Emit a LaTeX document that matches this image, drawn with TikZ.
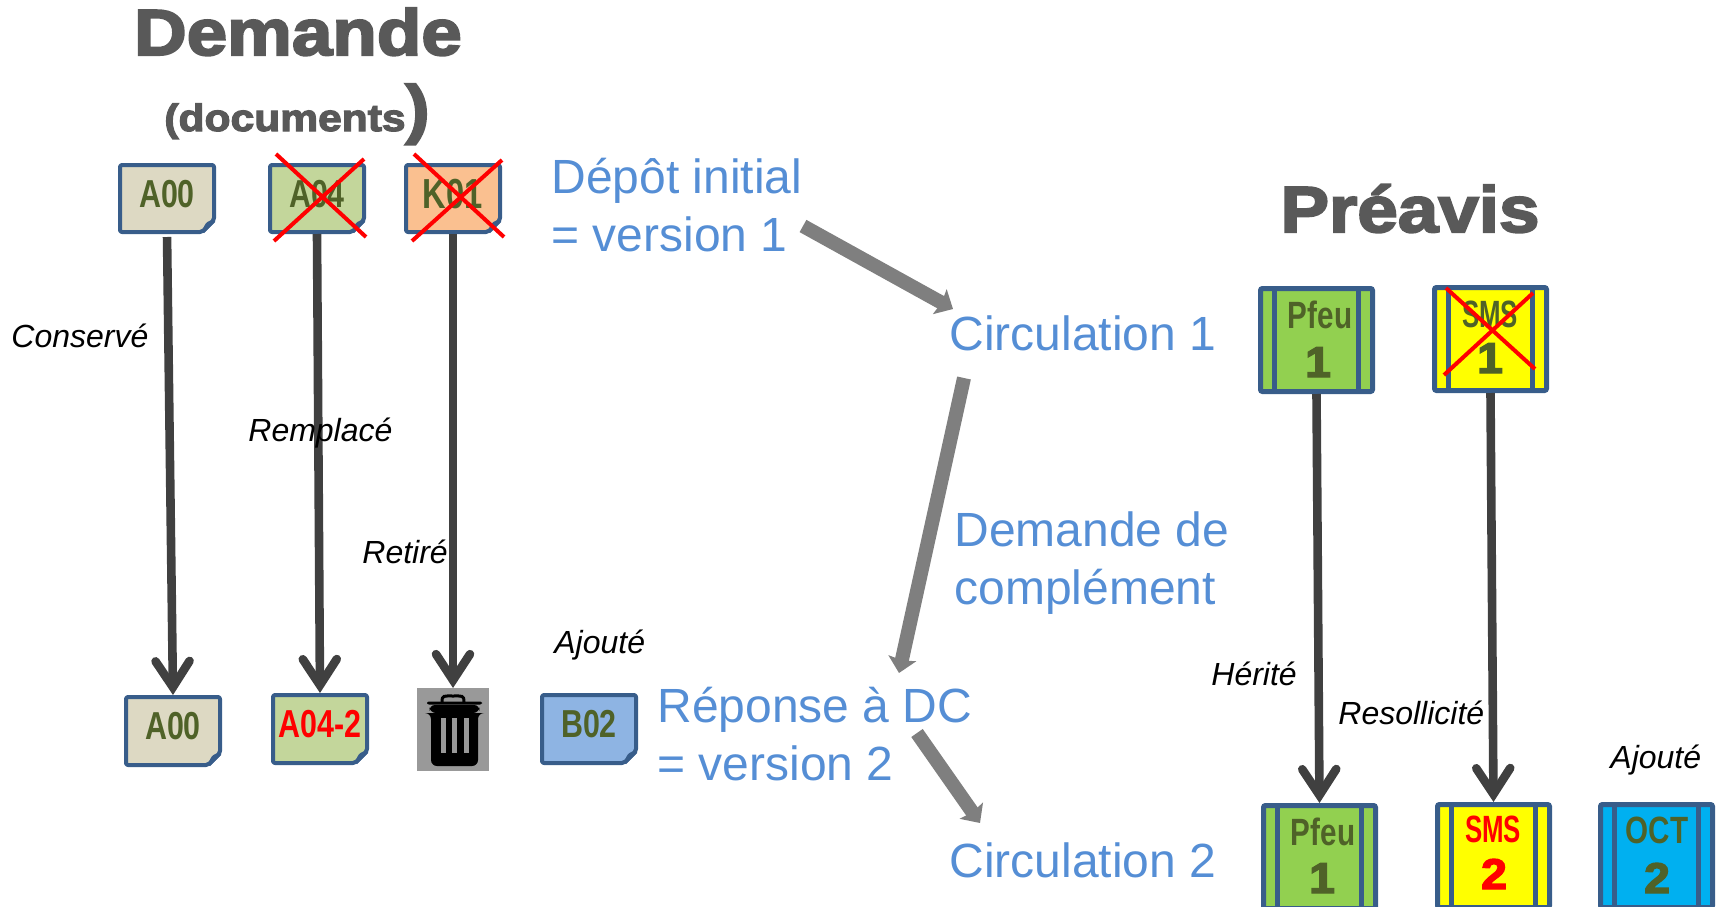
\documentclass[tikz,border=0pt]{standalone}
\usepackage{fontspec}
\setmainfont{Liberation Sans}
\newfontfamily\blackfont[UprightFont=* Bold,FakeBold=3.2,FakeStretch=1.12]{Liberation Sans}
\newfontfamily\numfont[UprightFont=* Bold,FakeBold=3.2,FakeStretch=1.08]{Liberation Sans}
\newfontfamily\narrowfont[UprightFont=* Bold,FakeStretch=0.78]{Liberation Sans}
\newfontfamily\smsfont[UprightFont=* Bold,FakeStretch=0.68]{Liberation Sans}
\usetikzlibrary{arrows.meta,calc}
\definecolor{edgeblue}{HTML}{385D8A}
\definecolor{textblue}{HTML}{558ED5}
\definecolor{olive}{HTML}{4F6228}
\definecolor{titlegrey}{HTML}{595959}
\definecolor{darkarrow}{HTML}{404040}
\definecolor{greyarrow}{HTML}{7F7F7F}
\definecolor{cbeige}{HTML}{DDD9C3}
\definecolor{cgreen}{HTML}{C3D69B}
\definecolor{corange}{HTML}{FAC090}
\definecolor{cblue}{HTML}{8EB4E3}
\definecolor{cpfeu}{HTML}{92D050}
\definecolor{coct}{HTML}{00B0F0}
\definecolor{cyell}{HTML}{FFFF00}
\definecolor{cred}{HTML}{FF0000}
\definecolor{bingrey}{HTML}{999999}
\tikzset{
  anchornode/.style={inner sep=0pt,outer sep=0pt,anchor=center},
  bluetext/.style={inner sep=0pt,anchor=base west,text=textblue,align=left,font=\fontsize{24}{29}\selectfont},
  notetext/.style={inner sep=0pt,anchor=base west,text=black,font=\itshape\fontsize{16}{18}\selectfont},
  titletext/.style={inner sep=0pt,anchor=base,text=titlegrey,font=\blackfont\fontsize{32.5}{36}\selectfont},
  doclabel/.style={inner sep=0pt,anchor=center,font=\narrowfont\fontsize{19.5}{20}\selectfont},
  signlabel/.style={inner sep=0pt,anchor=base,font=\narrowfont\fontsize{19}{20}\selectfont},
  smslabel/.style={inner sep=0pt,anchor=base,font=\smsfont\fontsize{19}{20}\selectfont},
  signnum/.style={inner sep=0pt,anchor=base,font=\numfont\fontsize{21.5}{22}\selectfont},
  darrow/.style={draw=darkarrow,line width=4.3pt,-{Straight Barb[length=13pt,width=17pt,line cap=round]}},
  garrow/.style={draw=greyarrow,line width=7pt,-{Stealth[length=7.5pt,width=14pt,inset=1pt]}},
  crossline/.style={draw=cred,line width=2pt},
  edgeline/.style={draw=edgeblue,line width=2.5pt}
}
% name, x1, y1, x2, y2, fill, text colour, label
\newcommand{\docbox}[8]{%
  \filldraw[fill=#6,draw=edgeblue,line width=2pt,line join=round,rounded corners=1pt]
    ({#2+2},{#3+2}) -- ({#4-2},{#3+2}) -- ({#4-2},{#5-14}) -- ({#4-14},{#5-2}) -- ({#2+2},{#5-2}) -- cycle;
  \fill[edgeblue] ({#4-1},{#5-14}) .. controls ({#4-8},{#5-14}) and ({#4-11},{#5-12}) .. ({#4-14},{#5-2}) -- ({#4-12},{#5-1}) -- ({#4-1},{#5-12}) -- cycle;
  \node[anchornode,minimum width={(#4-#2)*0.5pt},minimum height={(#5-#3)*0.5pt}] (#1) at ({(#2+#4)/2},{(#3+#5)/2}) {};
  \node[doclabel,text=#7] (#1t) at ({(#2+#4)/2},{(#3+#5)/2-4.5}) {#8};
}
% name, x1, y1, fill
\newcommand{\signbox}[4]{%
  \filldraw[fill=#4,edgeline,rounded corners=1pt] ({#2+2.5},{#3+2.5}) rectangle ({#2+114.5},{#3+105.5});
  \draw[edgeline] ({#2+16.5},{#3+2.5}) -- ({#2+16.5},{#3+105.5});
  \draw[edgeline] ({#2+100.5},{#3+2.5}) -- ({#2+100.5},{#3+105.5});
  \node[anchornode,minimum width=58.5pt,minimum height=54pt] (#1) at ({#2+58.5},{#3+54}) {};
}
\begin{document}
\begin{tikzpicture}[x=0.5pt,y=-0.5pt]
\useasboundingbox (0,0) rectangle (1720,906);
% titles
\node[titletext] (titleD) at (298,55) {Demande};
\node[inner sep=0pt,anchor=base west,text=titlegrey,font=\blackfont\fontsize{19}{20}\selectfont] (titleDoc) at (164,131) {(documents};
\node[inner sep=0pt,anchor=base west,text=titlegrey,font=\blackfont\fontsize{32.5}{36}\selectfont] (titleParen) at (405,131) {)};
\node[titletext] (titleP) at (1410,232) {Préavis};
% documents
\docbox{aT}{118}{163}{216}{234}{cbeige}{olive}{A00}
\docbox{bT}{268}{163}{366}{234}{cgreen}{olive}{A04}
\docbox{kT}{404}{163}{502}{234}{corange}{olive}{\fontsize{21}{22}\selectfont K01}
\docbox{aB}{124}{695}{222}{767}{cbeige}{olive}{A00}
\docbox{bB}{271}{693}{369}{765}{cgreen}{cred}{A04-2}
\docbox{cB}{540}{693}{638}{765}{cblue}{olive}{B02}
% bin
\node[anchornode,fill=bingrey,minimum width=36pt,minimum height=41.5pt] (bin) at (453,729.5) {};
\fill[black,rounded corners=1pt] (427,701.5) rectangle (482,704.5);
\draw[black,line width=1.5pt] (442,702) .. controls (442,695) and (444,696) .. (453,696) .. controls (462,696) and (464,695) .. (464,702);
\fill[black,rounded corners=3pt] (429,705) -- (480,705) -- (479,713) -- (478,713) -- (478,766) -- (431,766) -- (431,713) -- (430,713) -- cycle;
\fill[bingrey] (441,718) rectangle (446,753);
\fill[bingrey] (452,718) rectangle (457,753);
\fill[bingrey] (464,718) rectangle (469,753);
% signs
\signbox{pT}{1258}{286}{cpfeu}
\signbox{sT}{1432}{285}{cyell}
\signbox{pB}{1261}{803}{cpfeu}
\signbox{sB}{1435}{802}{cyell}
\signbox{oB}{1598}{802}{coct}
\node[signlabel,text=olive] (pTa) at (1320,328) {Pfeu};
\node[signnum,text=olive] (pTb) at (1318,377) {1};
\node[smslabel,text=olive] (sTa) at (1490,327) {SMS};
\node[signnum,text=olive] (sTb) at (1490,373) {1};
\node[signlabel,text=olive] (pBa) at (1323,845) {Pfeu};
\node[signnum,text=olive] (pBb) at (1322,893) {1};
\node[smslabel,text=cred] (sBa) at (1493,842) {SMS};
\node[signnum,text=cred] (sBb) at (1494,889) {2};
\node[signlabel,text=olive] (oBa) at (1657,843) {OCT};
\node[signnum,text=olive] (oBb) at (1657,893) {2};
% crosses
\draw[crossline] (276,154) -- (366,237);
\draw[crossline] (364,159) -- (274,241);
\draw[crossline] (414,154) -- (504,237);
\draw[crossline] (502,160) -- (412,241);
\draw[crossline] (1446,288) -- (1535,369);
\draw[crossline] (1533,293) -- (1444,375);
% dark arrows
\draw[darrow,shorten <=1.5pt] (aT.south) -- (aB.north);
\draw[darrow] (bT.south) -- (bB.north);
\draw[darrow] (kT.south) -- (bin.north);
\draw[darrow] (pT.south) -- (pB.north);
\draw[darrow] (sT.south) -- (sB.north);
% blue text
\node[bluetext] (depot) at (551,251) {Dépôt initial\\= version 1};
\node[bluetext] (circA) at (949,350) {Circulation 1};
\node[bluetext] (dc) at (954,604) {Demande de\\complément};
\node[bluetext] (rep) at (657,780) {Réponse à DC\\= version 2};
\node[bluetext] (circB) at (949,877) {Circulation 2};
% grey arrows
\coordinate (g1a) at (803,226); \coordinate (g1b) at (953,309);
\coordinate (g2a) at (964,378); \coordinate (g2b) at (899,673);
\coordinate (g3a) at (917,733); \coordinate (g3b) at (980,823);
\draw[garrow] (g1a) -- (g1b);
\draw[garrow] (g2a) -- (g2b);
\draw[garrow] (g3a) -- (g3b);
% italic notes
\node[notetext] (n1) at (11,347) {Conservé};
\node[notetext] (n2) at (248,441) {Remplacé};
\node[notetext] (n3) at (362,563) {Retiré};
\node[notetext] (n4) at (554,653) {Ajouté};
\node[notetext] (n5) at (1211,685) {Hérité};
\node[notetext] (n6) at (1338,724) {Resollicité};
\node[notetext] (n7) at (1610,768) {Ajouté};
\end{tikzpicture}
\end{document}
